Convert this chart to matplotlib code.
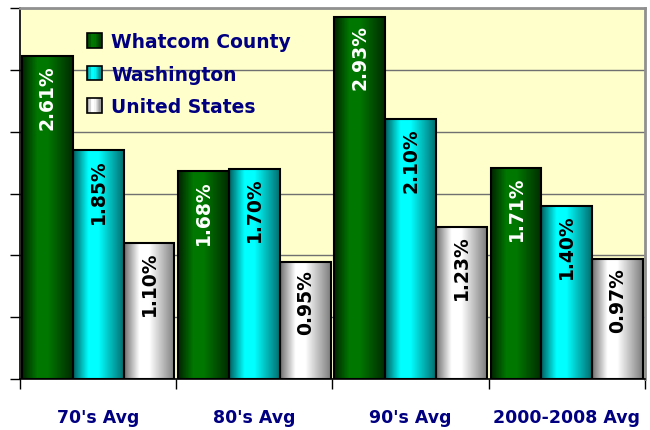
import numpy as np
import matplotlib.pyplot as plt
from matplotlib.colors import LinearSegmentedColormap
from matplotlib.legend_handler import HandlerBase
from matplotlib.patches import Rectangle

# data
categories = ["70's Avg", "80's Avg", "90's Avg", "2000-2008 Avg"]
series = ["Whatcom County", "Washington", "United States"]
whatcom = [2.61, 1.68, 2.93, 1.71]
washington = [1.85, 1.70, 2.10, 1.40]
united_states = [1.10, 0.95, 1.23, 0.97]

values = [whatcom, washington, united_states]
# edge colour / centre colour of each bar gradient
edge_colors = ['#002400', '#006060', '#707070']
mid_colors = ['#007800', '#00ffff', '#ffffff']
label_colors = ['white', 'black', 'black']
navy = '#000080'

# horizontal brightness profile across a bar (dark edges, light middle)
t = np.linspace(0, 1, 64)
profile = np.interp(t, [0, 0.3, 0.5, 1], [0.0, 1.0, 1.0, 0.1])
grad = profile.reshape(1, -1)

cmaps = [LinearSegmentedColormap.from_list('g%d' % i, [edge_colors[i], mid_colors[i]])
         for i in range(3)]


class GradientHandler(HandlerBase):
    def __init__(self, cmap):
        super().__init__()
        self.cmap = cmap

    def create_artists(self, legend, orig_handle, xdescent, ydescent,
                       width, height, fontsize, trans):
        arts = []
        n = 12
        for k in range(n):
            c = self.cmap(np.interp((k + 0.5) / n, [0, 0.3, 0.5, 1], [0.0, 1.0, 1.0, 0.1]))
            r = Rectangle((-xdescent + k * width / n, -ydescent), width / n, height,
                          facecolor=c, edgecolor='none', transform=trans)
            arts.append(r)
        arts.append(Rectangle((-xdescent, -ydescent), width, height, facecolor='none',
                              edgecolor='black', lw=1.2, transform=trans))
        return arts


fig = plt.figure(figsize=(6.5, 4.31), dpi=100)
ax = fig.add_axes([0.031, 0.118, 0.961, 0.861])
ax.set_facecolor('#ffffcc')

x = np.arange(len(categories))
width = 0.325
handles = []
for i, vals in enumerate(values):
    bars = ax.bar(x + (i - 1) * width, vals, width, facecolor='none',
                  edgecolor='black', linewidth=1.5, zorder=3, label=series[i])
    handles.append(bars)
    for b, v in zip(bars, vals):
        im = ax.imshow(grad, extent=[b.get_x(), b.get_x() + b.get_width(), 0, b.get_height()],
                       aspect='auto', cmap=cmaps[i], vmin=0, vmax=1, zorder=2,
                       interpolation='bilinear')
        im.set_clip_path(b)
        ax.annotate('%.2f%%' % v, xy=(b.get_x() + b.get_width() / 2, v),
                    xytext=(0, -5.5), textcoords='offset points', rotation=90,
                    ha='center', va='top', fontsize=13.5, fontweight='bold',
                    color=label_colors[i], zorder=4)

ax.set_xlim(-0.5, 3.5)
ax.set_ylim(0, 3.0)
ax.set_yticks(np.arange(0, 3.01, 0.5))
ax.set_yticklabels([])
ax.yaxis.grid(True, color='#707070', linewidth=1)
ax.set_axisbelow(True)
ax.tick_params(axis='y', direction='out', length=7, width=1, color='black')

ax.set_xticks(x)
ax.set_xticklabels(categories, fontsize=12.5, fontweight='bold', color=navy)
ax.set_xticks(np.arange(-0.5, 3.6, 1), minor=True)
ax.tick_params(axis='x', which='major', length=0, pad=21)
ax.tick_params(axis='x', which='minor', direction='out', length=7, width=1, color='black')

for s in ['left', 'bottom']:
    ax.spines[s].set_color('black')
    ax.spines[s].set_linewidth(1.2)
for s in ['top', 'right']:
    ax.spines[s].set_color('#909090')
    ax.spines[s].set_linewidth(2)

leg = ax.legend(handles=handles, loc='upper left', bbox_to_anchor=(0.107, 0.935),
                frameon=False, borderpad=0, borderaxespad=0, labelspacing=0.72,
                handlelength=0.8, handleheight=0.8, handletextpad=0.5,
                prop={'size': 13.5, 'weight': 'bold'},
                handler_map={handles[i]: GradientHandler(cmaps[i]) for i in range(3)})
for txt in leg.get_texts():
    txt.set_color(navy)

fig.savefig('out.png', dpi=100)
